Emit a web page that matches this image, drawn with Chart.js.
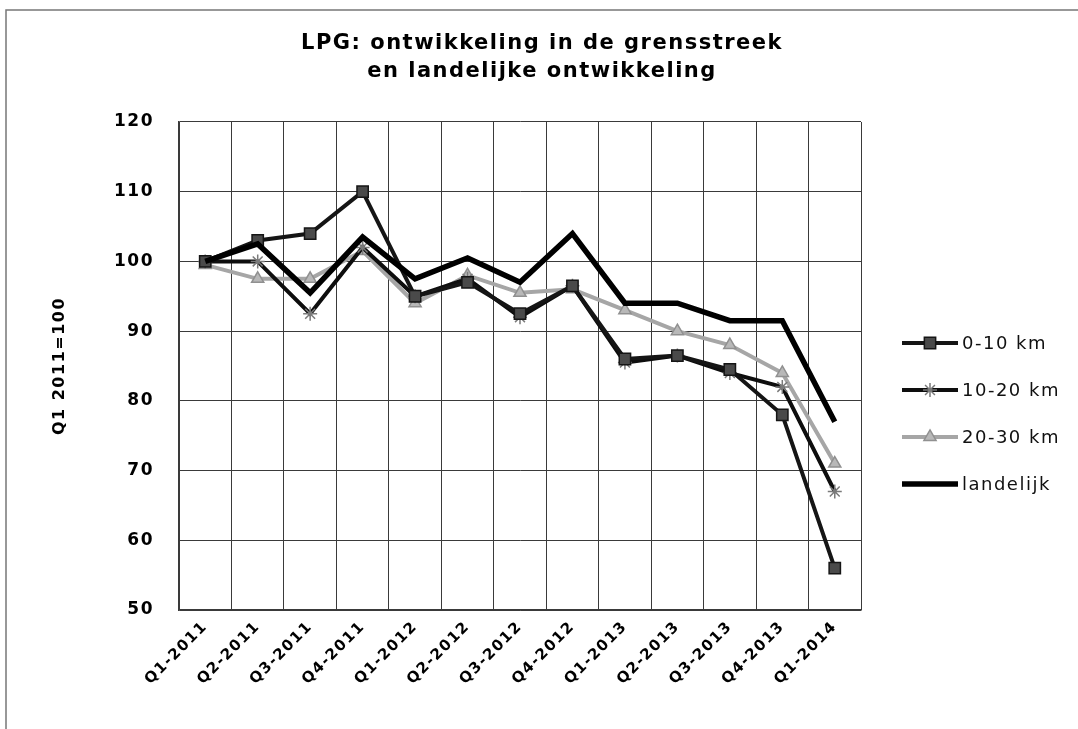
<!DOCTYPE html>
<html>
<head>
<meta charset="utf-8">
<title>LPG: ontwikkeling in de grensstreek</title>
<script src="https://cdn.jsdelivr.net/npm/chart.js@4.4.1/dist/chart.umd.min.js"></script>
<style>
    html, body { margin: 0; padding: 0; background: #ffffff; }
    .chart-container { position: relative; width: 1078px; height: 729px; }
</style>
</head>
<body>
<div class="chart-container">
    <canvas id="lpgChart"></canvas>
</div>
<script>
// Data (index Q1 2011 = 100)
const quarters = ['Q1-2011', 'Q2-2011', 'Q3-2011', 'Q4-2011', 'Q1-2012', 'Q2-2012', 'Q3-2012',
                  'Q4-2012', 'Q1-2013', 'Q2-2013', 'Q3-2013', 'Q4-2013', 'Q1-2014'];
const km0to10 = [100, 103, 104, 110, 95, 97, 92.5, 96.5, 86, 86.5, 84.5, 78, 56];
const km10to20 = [100, 100, 92.5, 102, 95, 97.5, 92, 96.5, 85.5, 86.5, 84, 82, 67];
const km20to30 = [99.5, 97.5, 97.5, 101.5, 94, 98, 95.5, 96, 93, 90, 88, 84, 71];
const landelijk = [100, 102.5, 95.5, 103.5, 97.5, 100.5, 97, 104, 94, 94, 91.5, 91.5, 77];
const yTicks = [50, 60, 70, 80, 90, 100, 110, 120];

const seriesNames = ['0-10 km', '10-20 km', '20-30 km', 'landelijk'];
const FONT = "'DejaVu Sans', Verdana, sans-serif";

// White page, frame lines and wide letter spacing like the scan
const framePlugin = {
    id: 'frame',
    beforeDraw(chart) {
        const ctx = chart.ctx;
        ctx.save();
        ctx.fillStyle = '#ffffff';
        ctx.fillRect(0, 0, chart.width, chart.height);
        ctx.strokeStyle = '#777777';
        ctx.lineWidth = 1.5;
        ctx.beginPath();
        ctx.moveTo(6, chart.height);
        ctx.lineTo(6, 10);
        ctx.lineTo(chart.width, 10);
        ctx.stroke();
        ctx.restore();
        ctx.letterSpacing = '1.5px';
    }
};

// Legend: line with marker in the middle, as in Excel
const sideLegend = {
    id: 'sideLegend',
    afterDraw(chart) {
        const ctx = chart.ctx;
        const area = chart.chartArea;
        const x0 = area.right + 41;
        const x1 = x0 + 56;
        const y0 = area.top + 221;
        const step = 47;
        ctx.save();
        ctx.letterSpacing = '1.5px';
        chart.data.datasets.forEach((ds, i) => {
            const y = y0 + i * step;
            ctx.strokeStyle = ds.borderColor;
            ctx.lineWidth = ds.borderWidth;
            ctx.beginPath();
            ctx.moveTo(x0, y);
            ctx.lineTo(x1, y);
            ctx.stroke();
            if (ds.pointStyle && ds.pointRadius > 0) {
                ctx.fillStyle = ds.pointBackgroundColor;
                ctx.strokeStyle = ds.pointBorderColor;
                ctx.lineWidth = ds.pointBorderWidth;
                Chart.helpers.drawPoint(ctx, {
                    pointStyle: ds.pointStyle,
                    radius: ds.pointRadius,
                    borderWidth: ds.pointBorderWidth,
                    rotation: 0
                }, (x0 + x1) / 2, y);
            }
            ctx.fillStyle = '#111111';
            ctx.font = '18px ' + FONT;
            ctx.textAlign = 'left';
            ctx.textBaseline = 'middle';
            ctx.fillText(ds.label, x1 + 4, y + 1);
        });
        ctx.restore();
    }
};

const lpgCtx = document.getElementById('lpgChart').getContext('2d');
const lpgChart = new Chart(lpgCtx, {
    type: 'line',
    data: {
        labels: quarters,
        datasets: [{
            label: seriesNames[0],
            data: km0to10,
            borderColor: '#151515',
            borderWidth: 4,
            pointStyle: 'rect',
            pointRadius: 8,
            pointBackgroundColor: '#4a4a4a',
            pointBorderColor: '#151515',
            pointBorderWidth: 1.5,
            order: 2
        }, {
            label: seriesNames[1],
            data: km10to20,
            borderColor: '#0e0e0e',
            borderWidth: 4,
            pointStyle: 'star',
            pointRadius: 7,
            pointBackgroundColor: '#8a8a8a',
            pointBorderColor: '#7a7a7a',
            pointBorderWidth: 1.5,
            order: 3
        }, {
            label: seriesNames[2],
            data: km20to30,
            borderColor: '#a6a6a6',
            borderWidth: 4,
            pointStyle: 'triangle',
            pointRadius: 7,
            pointBackgroundColor: '#b8b8b8',
            pointBorderColor: '#909090',
            pointBorderWidth: 1.5,
            order: 4
        }, {
            label: seriesNames[3],
            data: landelijk,
            borderColor: '#000000',
            borderWidth: 5.5,
            pointStyle: false,
            pointRadius: 0,
            order: 1
        }]
    },
    options: {
        responsive: true,
        maintainAspectRatio: false,
        animation: false,
        events: [],
        layout: {
            padding: { left: 6, right: 0, top: 0, bottom: 0 }
        },
        elements: {
            line: { tension: 0, borderJoinStyle: 'miter' }
        },
        plugins: {
            legend: { display: false },
            tooltip: { enabled: false },
            title: {
                display: true,
                text: ['LPG: ontwikkeling in de grensstreek', 'en landelijke ontwikkeling'],
                color: '#000000',
                font: { family: FONT, size: 21, weight: 'bold', lineHeight: 1.333 },
                padding: { top: 30, bottom: 36 }
            }
        },
        scales: {
            x: {
                offset: true,
                grid: {
                    offset: true,
                    color: '#3a3a3a',
                    lineWidth: 1,
                    drawTicks: false
                },
                border: { color: '#3a3a3a', width: 1.5 },
                ticks: {
                    color: '#000000',
                    maxRotation: 45,
                    minRotation: 45,
                    autoSkip: false,
                    padding: 8,
                    font: { family: FONT, size: 15, weight: 'bold' }
                },
                afterFit(scale) {
                    scale.height = 119;
                }
            },
            y: {
                min: 50,
                max: 120,
                afterBuildTicks(scale) {
                    scale.ticks = yTicks.map(v => ({ value: v }));
                },
                grid: {
                    color: '#3a3a3a',
                    lineWidth: 1,
                    drawTicks: false
                },
                border: { color: '#3a3a3a', width: 1.5 },
                ticks: {
                    color: '#000000',
                    padding: 25,
                    font: { family: FONT, size: 17, weight: 'bold' }
                },
                title: {
                    display: true,
                    text: 'Q1 2011=100',
                    color: '#000000',
                    font: { family: FONT, size: 16, weight: 'bold' },
                    padding: { top: 44, bottom: 0 }
                },
                afterFit(scale) {
                    scale.width = 173;
                }
            },
            // empty right axis that keeps room for the legend
            legendSpace: {
                position: 'right',
                min: 50,
                max: 120,
                grid: { display: false },
                border: { display: false },
                ticks: { display: false },
                afterFit(scale) {
                    scale.width = 217;
                }
            }
        }
    },
    plugins: [framePlugin, sideLegend]
});
</script>
</body>
</html>
